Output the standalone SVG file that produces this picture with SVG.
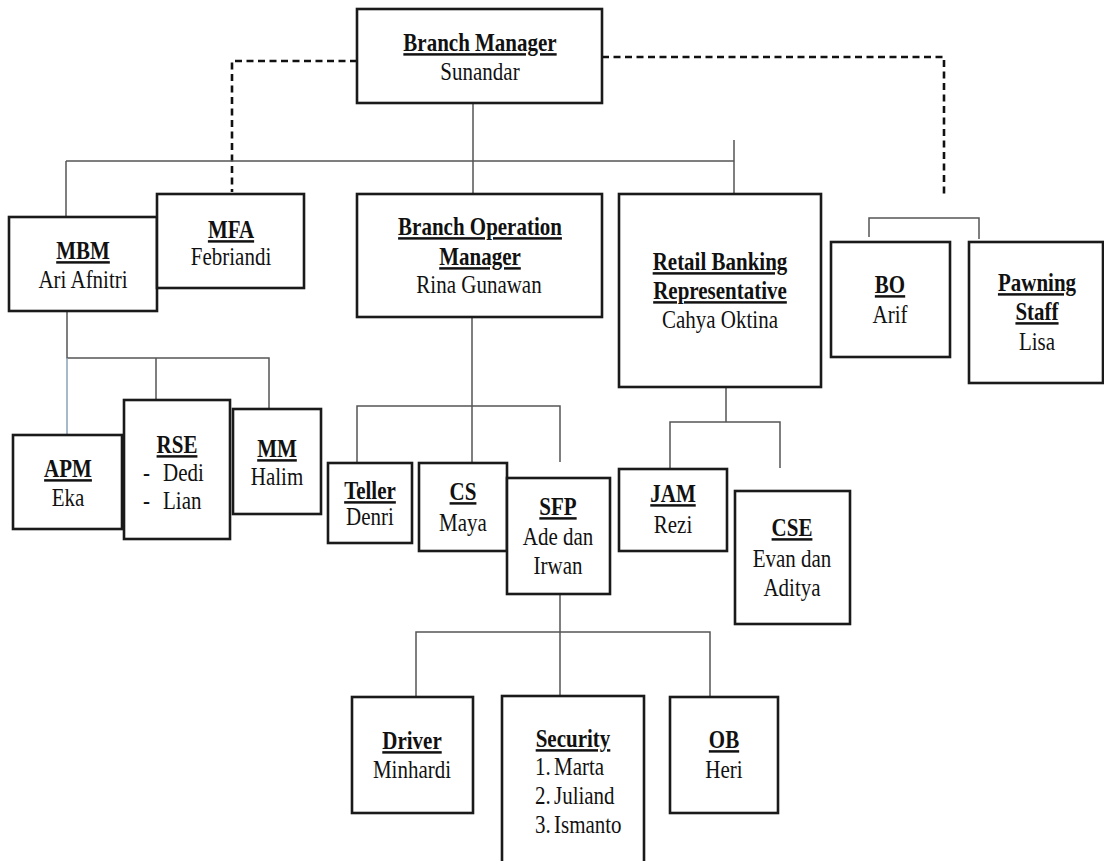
<svg xmlns="http://www.w3.org/2000/svg" width="1104" height="861" viewBox="0 0 1104 861">
<style>
.box{fill:#fff;stroke:#1a1a1a;stroke-width:2.6}
.ln{fill:none;stroke:#555;stroke-width:1.5}
.dash{fill:none;stroke:#111;stroke-width:2.6;stroke-dasharray:7 4.5}
text{font-family:"Liberation Serif","Times New Roman",serif;font-size:21px;fill:#111;text-anchor:middle}
.t{font-weight:bold;text-decoration:underline;text-decoration-thickness:2px;text-underline-offset:2px}
.s{text-anchor:start}
</style>
<rect width="1104" height="861" fill="#fff"/>
<g id="connectors">
<path class="dash" d="M357,61 H232 V192"/>
<path class="dash" d="M602,57 H944 V197"/>
<path class="ln" d="M473,103 V194"/>
<path class="ln" d="M66,161 H734"/>
<path class="ln" d="M734,140 V194"/>
<path class="ln" d="M66,161 V217"/>
<path class="ln" d="M869,237 V218 H979 V239"/>
<path class="ln" d="M67,311 V358 H269 V409"/>
<path class="ln" d="M156,358 V400"/>
<path class="ln" d="M67,358 V435" style="stroke:#8aa0b8"/>
<path class="ln" d="M472,317 V463"/>
<path class="ln" d="M357,463 V406 H560 V462"/>
<path class="ln" d="M560,594 V696"/>
<path class="ln" d="M416,697 V632 H710 V697"/>
<path class="ln" d="M726,387 V422"/>
<path class="ln" d="M670,469 V422 H780 V468"/>
</g>
<g id="bm">
<rect class="box" x="357" y="9" width="245" height="94"/>
<text class="t" transform="translate(480 51) scale(1 1.18)">Branch Manager</text>
<text transform="translate(480 80) scale(1 1.18)">Sunandar</text>
</g>
<g id="mbm">
<rect class="box" x="9" y="217" width="148" height="94"/>
<text class="t" transform="translate(83 259) scale(1 1.18)">MBM</text>
<text transform="translate(83 288) scale(1 1.18)">Ari Afnitri</text>
</g>
<g id="mfa">
<rect class="box" x="157" y="194" width="147" height="94"/>
<text class="t" transform="translate(231 238) scale(1 1.18)">MFA</text>
<text transform="translate(231 265) scale(1 1.18)">Febriandi</text>
</g>
<g id="bom">
<rect class="box" x="357" y="194" width="245" height="123"/>
<text class="t" transform="translate(480 235) scale(1 1.18)">Branch Operation</text>
<text class="t" transform="translate(480 265) scale(1 1.18)">Manager</text>
<text transform="translate(479 293) scale(1 1.18)">Rina Gunawan</text>
</g>
<g id="rbr">
<rect class="box" x="619" y="194" width="202" height="193"/>
<text class="t" transform="translate(720 270) scale(1 1.18)">Retail Banking</text>
<text class="t" transform="translate(720 299) scale(1 1.18)">Representative</text>
<text transform="translate(720 328) scale(1 1.18)">Cahya Oktina</text>
</g>
<g id="bo">
<rect class="box" x="831" y="242" width="119" height="115"/>
<text class="t" transform="translate(890 293) scale(1 1.18)">BO</text>
<text transform="translate(890 323) scale(1 1.18)">Arif</text>
</g>
<g id="pawning">
<rect class="box" x="969" y="242" width="134" height="141"/>
<text class="t" transform="translate(1037 291) scale(1 1.18)">Pawning</text>
<text class="t" transform="translate(1037 320) scale(1 1.18)">Staff</text>
<text transform="translate(1037 350) scale(1 1.18)">Lisa</text>
</g>
<g id="apm">
<rect class="box" x="13" y="435" width="109" height="94"/>
<text class="t" transform="translate(68 477) scale(1 1.18)">APM</text>
<text transform="translate(68 506) scale(1 1.18)">Eka</text>
</g>
<g id="rse">
<rect class="box" x="124" y="400" width="106" height="139"/>
<text class="t" transform="translate(177 453) scale(1 1.18)">RSE</text>
<text class="s" transform="translate(143 481) scale(1 1.18)">-<tspan x="20">Dedi</tspan></text>
<text class="s" transform="translate(143 509) scale(1 1.18)">-<tspan x="20">Lian</tspan></text>
</g>
<g id="mm">
<rect class="box" x="233" y="409" width="88" height="105"/>
<text class="t" transform="translate(277 457) scale(1 1.18)">MM</text>
<text transform="translate(277 485) scale(1 1.18)">Halim</text>
</g>
<g id="teller">
<rect class="box" x="328" y="463" width="84" height="80"/>
<text class="t" transform="translate(370 499) scale(1 1.18)">Teller</text>
<text transform="translate(370 525) scale(1 1.18)">Denri</text>
</g>
<g id="cs">
<rect class="box" x="419" y="463" width="88" height="88"/>
<text class="t" transform="translate(463 500) scale(1 1.18)">CS</text>
<text transform="translate(463 531) scale(1 1.18)">Maya</text>
</g>
<g id="sfp">
<rect class="box" x="507" y="478" width="103" height="116"/>
<text class="t" transform="translate(558 515) scale(1 1.18)">SFP</text>
<text transform="translate(558 545) scale(1 1.18)">Ade dan</text>
<text transform="translate(558 574) scale(1 1.18)">Irwan</text>
</g>
<g id="jam">
<rect class="box" x="619" y="469" width="108" height="82"/>
<text class="t" transform="translate(673 502) scale(1 1.18)">JAM</text>
<text transform="translate(673 533) scale(1 1.18)">Rezi</text>
</g>
<g id="cse">
<rect class="box" x="735" y="491" width="115" height="133"/>
<text class="t" transform="translate(792 536) scale(1 1.18)">CSE</text>
<text transform="translate(792 567) scale(1 1.18)">Evan dan</text>
<text transform="translate(792 596) scale(1 1.18)">Aditya</text>
</g>
<g id="driver">
<rect class="box" x="352" y="697" width="121" height="116"/>
<text class="t" transform="translate(412 749) scale(1 1.18)">Driver</text>
<text transform="translate(412 778) scale(1 1.18)">Minhardi</text>
</g>
<g id="security">
<rect class="box" x="502" y="696" width="142" height="180"/>
<text class="t" transform="translate(573 747) scale(1 1.18)">Security</text>
<text class="s" transform="translate(535 775) scale(1 1.18)">1.<tspan x="19">Marta</tspan></text>
<text class="s" transform="translate(535 804) scale(1 1.18)">2.<tspan x="19">Juliand</tspan></text>
<text class="s" transform="translate(535 833) scale(1 1.18)">3.<tspan x="19">Ismanto</tspan></text>
</g>
<g id="ob">
<rect class="box" x="670" y="697" width="108" height="116"/>
<text class="t" transform="translate(724 748) scale(1 1.18)">OB</text>
<text transform="translate(724 778) scale(1 1.18)">Heri</text>
</g>
</svg>
